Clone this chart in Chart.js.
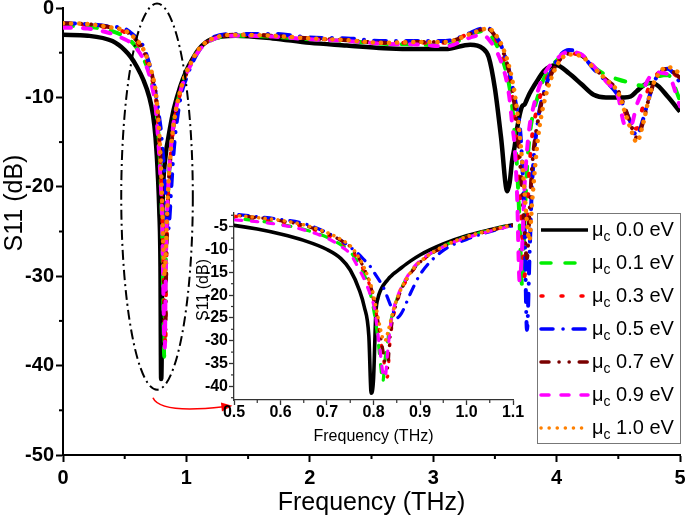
<!DOCTYPE html>
<html>
<head>
<meta charset="utf-8">
<script src="https://cdn.jsdelivr.net/npm/chart.js@4.4.1/dist/chart.umd.min.js"></script>
<style>
  html, body { margin: 0; padding: 0; background: #fff; }
  #wrap { position: relative; width: 685px; height: 520px; }
  #main { position: absolute; left: 0; top: 0; }
  #inset { position: absolute; left: 180px; top: 200px; }
</style>
</head>
<body>
<div id="wrap">
  <canvas id="main" width="685" height="520"></canvas>
  <canvas id="inset" width="505" height="250"></canvas>
</div>
<script>
// frequency grid (THz), dense round the two resonances
const FREQ = [
  0, 0.2, 0.4, 0.5, 0.55, 0.6, 0.65, 0.7,
  0.73, 0.75, 0.77, 0.78, 0.79, 0.795, 0.8, 0.805, 0.81, 0.815,
  0.82, 0.825, 0.83, 0.835, 0.84, 0.85, 0.86, 0.88, 0.9, 0.95, 1.0, 1.05, 1.1,
  1.2, 1.4, 1.7, 2.0, 2.3, 2.6, 2.9, 3.1, 3.3, 3.4,
  3.45, 3.5, 3.55, 3.6, 3.62, 3.64, 3.66, 3.68, 3.7, 3.72,
  3.74, 3.76, 3.78, 3.8, 3.85, 3.9, 4.0, 4.1, 4.2, 4.3,
  4.4, 4.5, 4.55, 4.6, 4.65, 4.7, 4.75, 4.8, 4.9, 5.0,
];

// S11 (dB) per chemical potential
const S11_00 = [
  -3.0, -3.1, -3.7, -4.7, -5.5, -6.6, -8.0, -10.0,
  -12.0, -14.5, -19.0, -22.5, -29.0, -41.5, -38.5, -24.0, -20.5, -19.0,
  -18.0, -17.3, -16.7, -16.1, -15.6, -14.8, -14.0, -12.5, -11.2, -8.8, -7.0, -5.7, -4.6,
  -3.5, -3.1, -3.4, -3.9, -4.2, -4.5, -4.6, -4.6, -4.1, -4.5,
  -5.5, -9.0, -14.5, -20.5, -19.5, -17.0, -15.5, -13.5, -12.0, -11.0,
  -10.8, -10.2, -9.6, -9.1, -8.0, -7.0, -6.4, -7.3, -8.5, -9.7,
  -10.0, -10.0, -10.0, -9.9, -9.3, -8.7, -8.4, -8.5, -9.9, -11.6,
];
const S11_01 = [
  -2.0, -2.1, -2.6, -3.2, -3.7, -4.5, -5.6, -7.3,
  -9.0, -10.5, -13.5, -15.5, -18.5, -20.5, -23.0, -26.0, -30.0, -35.0,
  -39.0, -34.0, -30.5, -27.0, -24.5, -21.0, -18.5, -15.0, -12.7, -9.3, -7.2, -5.8, -4.7,
  -3.6, -3.1, -3.2, -3.5, -3.7, -4.0, -4.1, -4.2, -3.0, -2.6,
  -2.8, -3.8, -5.3, -7.6, -9.0, -11.0, -14.0, -18.0, -24.0, -31.0,
  -24.0, -18.0, -14.5, -12.5, -9.8, -7.8, -5.9, -5.0, -5.3, -6.6,
  -7.5, -8.0, -8.2, -8.3, -8.6, -8.7, -8.3, -7.8, -7.5, -10.3,
];
const S11_03 = [
  -1.8, -1.9, -2.3, -2.7, -3.2, -3.9, -5.0, -6.8,
  -8.4, -9.8, -12.8, -14.8, -17.3, -19.0, -21.0, -23.5, -26.5, -29.5,
  -33.0, -36.0, -38.0, -31.0, -26.5, -21.8, -19.0, -15.3, -12.9, -9.5, -7.3, -5.9, -4.7,
  -3.5, -3.0, -3.1, -3.4, -3.6, -3.9, -3.9, -3.9, -2.8, -2.4,
  -2.5, -3.3, -4.6, -6.8, -8.0, -9.8, -12.0, -15.5, -20.0, -25.0,
  -30.0, -24.0, -18.0, -14.5, -10.8, -8.5, -6.2, -5.1, -5.3, -6.6,
  -8.0, -9.5, -11.5, -13.0, -13.5, -11.0, -8.8, -7.6, -6.9, -8.0,
];
const S11_05 = [
  -1.7, -1.8, -2.1, -2.3, -2.8, -3.4, -4.3, -6.3,
  -8.0, -9.5, -11.2, -12.3, -13.3, -14.0, -14.8, -15.6, -16.4, -17.2,
  -18.0, -19.2, -20.5, -21.8, -23.0, -25.0, -24.0, -19.5, -15.5, -10.2, -7.8, -6.1, -4.8,
  -3.4, -2.9, -2.9, -3.3, -3.4, -3.7, -3.7, -3.7, -2.8, -2.3,
  -2.3, -3.0, -4.2, -6.2, -7.3, -8.6, -10.0, -11.5, -13.0, -17.0,
  -24.0, -36.0, -28.0, -20.0, -12.5, -9.3, -5.9, -4.7, -5.2, -6.8,
  -8.2, -9.8, -11.2, -12.8, -14.3, -12.5, -10.0, -8.0, -6.8, -8.3,
];
const S11_07 = [
  -1.7, -1.8, -2.2, -2.5, -3.0, -3.7, -4.7, -6.5,
  -8.0, -9.4, -12.2, -14.2, -16.8, -18.5, -20.5, -23.0, -26.0, -29.0,
  -32.0, -35.0, -36.0, -30.0, -26.0, -21.5, -18.8, -15.2, -12.8, -9.4, -7.3, -5.9, -4.7,
  -3.5, -3.0, -3.1, -3.4, -3.6, -3.9, -3.8, -3.8, -2.9, -2.4,
  -2.4, -3.1, -4.3, -6.3, -7.5, -9.0, -11.0, -13.5, -16.5, -20.5,
  -25.0, -28.0, -23.0, -18.0, -12.5, -9.5, -6.3, -5.1, -5.3, -6.6,
  -8.0, -9.3, -11.0, -13.0, -14.5, -12.8, -10.0, -8.0, -6.8, -7.8,
];
const S11_09 = [
  -2.2, -2.3, -2.9, -3.5, -3.9, -4.6, -5.7, -7.5,
  -9.3, -11.0, -14.5, -16.5, -19.0, -20.5, -22.0, -25.0, -29.0, -33.0,
  -37.0, -38.0, -33.0, -28.0, -24.5, -20.8, -18.3, -14.8, -12.5, -9.4, -7.4, -6.0, -4.8,
  -3.6, -3.1, -3.2, -3.5, -3.7, -4.0, -4.1, -4.3, -3.3, -3.0,
  -3.5, -4.5, -6.0, -8.5, -10.3, -13.0, -15.5, -21.0, -30.5, -27.0,
  -20.0, -16.0, -13.3, -11.8, -9.2, -7.4, -5.7, -4.9, -5.2, -6.5,
  -8.2, -10.0, -13.0, -13.2, -10.8, -9.2, -7.8, -7.2, -7.4, -11.0,
];
const S11_10 = [
  -1.7, -1.8, -2.2, -2.5, -3.0, -3.6, -4.6, -6.3,
  -7.8, -9.2, -12.0, -14.0, -16.5, -18.0, -20.0, -22.5, -25.0, -27.5,
  -29.5, -30.0, -28.5, -26.5, -24.5, -21.0, -18.5, -15.0, -12.7, -9.3, -7.2, -5.8, -4.6,
  -3.5, -3.0, -3.1, -3.4, -3.6, -3.9, -3.8, -3.8, -2.9, -2.4,
  -2.3, -2.9, -4.0, -5.8, -6.8, -8.0, -9.5, -11.5, -14.0, -17.0,
  -20.5, -24.0, -26.0, -22.0, -14.5, -10.5, -6.5, -5.2, -5.4, -6.7,
  -8.0, -9.5, -11.5, -13.5, -15.0, -13.0, -10.0, -8.0, -6.6, -7.3,
];

const SERIES_LABELS = ['0.0 eV', '0.1 eV', '0.3 eV', '0.5 eV', '0.7 eV', '0.9 eV', '1.0 eV'];
const SERIES_VALUES = [S11_00, S11_01, S11_03, S11_05, S11_07, S11_09, S11_10];

// tick labels
const MAIN_X_TICKS = [0, 1, 2, 3, 4, 5];
const MAIN_X_MINOR = [0.5, 1.5, 2.5, 3.5, 4.5];
const MAIN_Y_TICKS = [-50, -40, -30, -20, -10, 0];
const MAIN_Y_MINOR = [-45, -35, -25, -15, -5];
const INSET_X_TICKS = [0.5, 0.6, 0.7, 0.8, 0.9, 1.0, 1.1];
const INSET_X_MINOR = [0.55, 0.65, 0.75, 0.85, 0.95, 1.05];
const INSET_Y_TICKS = [-40, -35, -30, -25, -20, -15, -10, -5];
const INSET_Y_MINOR = [-42.5, -37.5, -32.5, -27.5, -22.5, -17.5, -12.5, -7.5, -2.5];

// line styles
const COLORS = ['#000000', '#00ee00', '#ff0000', '#0000ff', '#7a0000', '#ff00ff', '#ff8000'];
const DASHES = [[], [10, 14], [2, 18], [12, 10, 0.1, 10], [8, 10, 0.1, 10, 0.1, 10], [8, 12], [0.1, 8]];
const WIDTHS = [4.5, 4, 4, 4, 4, 4, 4.5];

const FONT = 'Arial';
Chart.defaults.font.family = FONT;
Chart.defaults.color = '#000';

function buildDatasets(widthScale, dashScale) {
  return SERIES_VALUES.map((vals, i) => ({
    label: SERIES_LABELS[i],
    data: FREQ.map((f, j) => ({ x: f, y: vals[j] })),
    borderColor: COLORS[i],
    borderWidth: WIDTHS[i] * widthScale,
    borderDash: DASHES[i].map(d => d * dashScale),
    borderCapStyle: i === 0 ? 'butt' : 'round',
    borderJoinStyle: 'round',
    pointRadius: 0,
    fill: false,
    cubicInterpolationMode: 'monotone',
    order: SERIES_VALUES.length - 1 - i,
  }));
}

const fixedTicks = list => scale => { scale.ticks = list.map(v => ({ value: v })); };

// bold tick labels, small outward minor ticks and the rotated y title
const axisExtras = {
  id: 'axisExtras',
  afterDraw(chart, args, opts) {
    const { ctx, chartArea } = chart;
    const { x, y } = chart.scales;
    ctx.save();
    ctx.strokeStyle = opts.color;
    ctx.lineWidth = opts.width;
    opts.xMinor.forEach(v => {
      const px = x.getPixelForValue(v);
      ctx.beginPath(); ctx.moveTo(px, chartArea.bottom); ctx.lineTo(px, chartArea.bottom + opts.len); ctx.stroke();
    });
    opts.yMinor.forEach(v => {
      const py = y.getPixelForValue(v);
      ctx.beginPath(); ctx.moveTo(chartArea.left, py); ctx.lineTo(chartArea.left - opts.len, py); ctx.stroke();
    });

    ctx.fillStyle = '#000';
    ctx.font = `bold ${opts.labelSize}px ${FONT}`;
    ctx.textAlign = 'center';
    ctx.textBaseline = 'top';
    opts.xTicks.forEach(v => ctx.fillText(opts.xFmt(v), x.getPixelForValue(v), chartArea.bottom + opts.xGap));
    ctx.textAlign = 'right';
    ctx.textBaseline = 'middle';
    opts.yTicks.forEach(v => ctx.fillText(String(v), chartArea.left - opts.yGap, y.getPixelForValue(v)));

    ctx.translate(opts.yTitle.x, opts.yTitle.y);
    ctx.rotate(-Math.PI / 2);
    ctx.font = `${opts.yTitle.size}px ${FONT}`;
    ctx.textAlign = 'center';
    ctx.fillText(opts.yTitle.text, 0, 0);
    ctx.restore();
  }
};

// dash-dot ellipse on the first dip and the red arrow to the inset
const annotate = {
  id: 'annotate',
  afterDatasetsDraw(chart) {
    const { ctx, scales: { x, y } } = chart;
    ctx.save();
    const cx = x.getPixelForValue(0.762), cy = y.getPixelForValue(-21.1);
    const rx = x.getPixelForValue(0.762 + 0.29) - cx;
    const ry = y.getPixelForValue(-21.1 - 21.6) - cy;
    ctx.strokeStyle = '#000';
    ctx.lineWidth = 2;
    ctx.setLineDash([10, 4, 2, 4]);
    ctx.beginPath(); ctx.ellipse(cx, cy, rx, ry, 0, 0, Math.PI * 2); ctx.stroke();

    ctx.setLineDash([]);
    ctx.strokeStyle = '#ff0000';
    ctx.fillStyle = '#ff0000';
    ctx.lineWidth = 1.6;
    const p0 = [x.getPixelForValue(0.729), y.getPixelForValue(-43.6)];
    const p1 = [x.getPixelForValue(0.786), y.getPixelForValue(-45.4)];
    const p2 = [x.getPixelForValue(1.30), y.getPixelForValue(-44.6)];
    ctx.beginPath(); ctx.moveTo(p0[0], p0[1]); ctx.quadraticCurveTo(p1[0], p1[1], p2[0], p2[1]); ctx.stroke();
    const ang = Math.atan2(p2[1] - p1[1], p2[0] - p1[0]);
    const tip = [p2[0] + 9 * Math.cos(ang), p2[1] + 9 * Math.sin(ang)];
    ctx.beginPath();
    ctx.moveTo(tip[0], tip[1]);
    ctx.lineTo(p2[0] - 2 * Math.cos(ang) + 4.5 * Math.sin(ang), p2[1] - 2 * Math.sin(ang) - 4.5 * Math.cos(ang));
    ctx.lineTo(p2[0] - 2 * Math.cos(ang) - 4.5 * Math.sin(ang), p2[1] - 2 * Math.sin(ang) + 4.5 * Math.cos(ang));
    ctx.closePath(); ctx.fill();
    ctx.restore();
  }
};

// boxed legend with subscripted mu
const legendBox = {
  id: 'legendBox',
  afterDraw(chart) {
    const ctx = chart.ctx;
    const x0 = 357, y0 = 13, w = 143, h = 230;
    ctx.save();
    ctx.fillStyle = '#fff';
    ctx.fillRect(x0, y0, w, h);
    ctx.strokeStyle = '#777';
    ctx.lineWidth = 1;
    ctx.strokeRect(x0 + 0.5, y0 + 0.5, w, h);
    SERIES_LABELS.forEach((label, i) => {
      const yy = y0 + 17 + i * 33;
      ctx.strokeStyle = COLORS[i];
      ctx.lineWidth = 3.5;
      ctx.lineCap = i === 0 ? 'butt' : 'round';
      ctx.setLineDash(DASHES[i]);
      ctx.beginPath(); ctx.moveTo(x0 + 4, yy); ctx.lineTo(x0 + 51, yy); ctx.stroke();
      ctx.setLineDash([]);
      ctx.fillStyle = '#000';
      ctx.textBaseline = 'middle';
      let tx = x0 + 55;
      ctx.font = `20px ${FONT}`;
      ctx.fillText('\u03bc', tx, yy);
      tx += ctx.measureText('\u03bc').width;
      ctx.font = `14px ${FONT}`;
      ctx.fillText('c', tx, yy + 7);
      tx += ctx.measureText('c').width;
      ctx.font = `20px ${FONT}`;
      ctx.fillText(' ' + label, tx, yy);
    });
    ctx.restore();
  }
};

function axis(opts) {
  return {
    type: 'linear',
    min: opts.min, max: opts.max,
    afterBuildTicks: fixedTicks(opts.ticks),
    afterFit: opts.fit,
    grid: { drawOnChartArea: false, drawTicks: true, tickLength: opts.tickLen, tickWidth: opts.lw, tickColor: opts.color },
    border: { display: true, color: opts.color, width: opts.lw },
    ticks: { display: false },
    title: { display: !!opts.title, text: opts.title || '', color: '#000', font: { size: opts.titleSize }, padding: 0 },
  };
}

new Chart(document.getElementById('main'), {
  type: 'line',
  data: { datasets: buildDatasets(1, 1) },
  options: {
    animation: false, responsive: false, devicePixelRatio: 1,
    layout: { padding: { left: 0, top: 8, right: 5, bottom: 2 } },
    plugins: {
      legend: { display: false }, tooltip: { enabled: false },
      axisExtras: {
        xMinor: MAIN_X_MINOR, yMinor: MAIN_Y_MINOR, len: 4, width: 2, color: '#000',
        xTicks: MAIN_X_TICKS, yTicks: MAIN_Y_TICKS, xFmt: v => String(v), labelSize: 20, xGap: 13, yGap: 9,
        yTitle: { text: 'S11 (dB)', x: 15, y: 203, size: 25 },
      },
    },
    scales: {
      x: axis({ min: 0, max: 5, ticks: MAIN_X_TICKS, fit: s => { s.height = 63; }, tickLen: 7, lw: 2, color: '#000',
                title: 'Frequency (THz)', titleSize: 25 }),
      y: axis({ min: -50, max: 0, ticks: MAIN_Y_TICKS, fit: s => { s.width = 63; }, tickLen: 7, lw: 2, color: '#000' }),
    },
  },
  plugins: [axisExtras, annotate],
});

new Chart(document.getElementById('inset'), {
  type: 'line',
  data: { datasets: buildDatasets(0.8, 0.8) },
  options: {
    animation: false, responsive: false, devicePixelRatio: 1,
    layout: { padding: { left: 16, top: 13, right: 172, bottom: 4 } },
    plugins: {
      legend: { display: false }, tooltip: { enabled: false },
      axisExtras: {
        xMinor: INSET_X_MINOR, yMinor: INSET_Y_MINOR, len: 3, width: 1.2, color: '#333',
        xTicks: INSET_X_TICKS, yTicks: INSET_Y_TICKS, xFmt: v => v.toFixed(1), labelSize: 16, xGap: 5, yGap: 6,
        yTitle: { text: 'S11 (dB)', x: 24, y: 90, size: 16 },
      },
    },
    scales: {
      x: axis({ min: 0.5, max: 1.1, ticks: INSET_X_TICKS, fit: s => { s.height = 46; }, tickLen: 5, lw: 1.3, color: '#333',
                title: 'Frequency (THz)', titleSize: 16 }),
      y: axis({ min: -43, max: -2, ticks: INSET_Y_TICKS, fit: s => { s.width = 38; }, tickLen: 5, lw: 1.3, color: '#333' }),
    },
  },
  plugins: [axisExtras, legendBox],
});
</script>
</body>
</html>
